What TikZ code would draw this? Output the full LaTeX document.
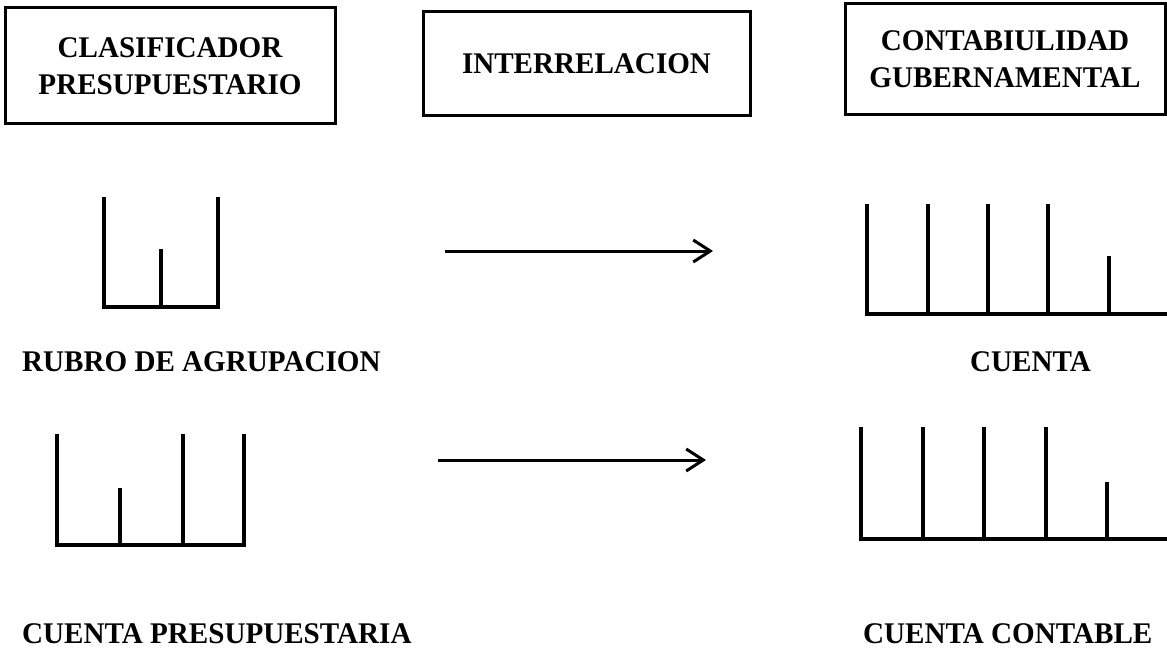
\documentclass[tikz,border=0pt]{standalone}
\usepackage{fontspec}
\setmainfont{Liberation Serif}[FakeStretch=0.97]
\usetikzlibrary{arrows.meta}
\begin{document}
\begin{tikzpicture}[x=1pt,y=-1pt,
  titlebox/.style={draw,line width=3pt,inner sep=0pt,align=center,font=\fontsize{30}{37}\selectfont\bfseries},
  lbl/.style={inner sep=0pt,anchor=base west,font=\fontsize{30}{37}\selectfont\bfseries},
  comb/.style={line width=3.5pt,line cap=butt},
  rel/.style={line width=3pt,-{Straight Barb[length=17pt,width=22pt,line width=3pt]}}]
\useasboundingbox (0,0) rectangle (1167,650);
% title boxes
\node[titlebox,minimum width=330pt,minimum height=116pt] (clas) at (170,66) {CLASIFICADOR\\PRESUPUESTARIO};
\node[titlebox,minimum width=327pt,minimum height=104pt] (inter) at (586.5,64) {INTERRELACION};
\node[titlebox,minimum width=320pt,minimum height=111pt] (cont) at (1005,59.5) {CONTABIULIDAD\\GUBERNAMENTAL};
% comb 1
\draw[comb] (104,197) -- (104,307) -- (218,307) -- (218,197);
\draw[comb] (161,249) -- (161,307);
% comb 2
\draw[comb] (867,204) -- (867,314) -- (1167,314);
\foreach \x in {928,988,1048} \draw[comb] (\x,204) -- (\x,314);
\draw[comb] (1109,256) -- (1109,314);
% comb 3
\draw[comb] (57,434) -- (57,545) -- (244,545) -- (244,434);
\draw[comb] (120,488) -- (120,545);
\draw[comb] (183,434) -- (183,545);
% comb 4
\draw[comb] (861,427) -- (861,539) -- (1167,539);
\foreach \x in {923,984,1046} \draw[comb] (\x,427) -- (\x,539);
\draw[comb] (1107,482) -- (1107,539);
% arrows
\coordinate (a1s) at (445,251);
\coordinate (a1e) at (713,251);
\coordinate (a2s) at (438,460);
\coordinate (a2e) at (706,460);
\draw[rel] (a1s) -- (a1e);
\draw[rel] (a2s) -- (a2e);
% labels
\node[lbl] (rubro) at (22,371) {RUBRO DE AGRUPACION};
\node[lbl] (cuenta) at (970,371) {CUENTA};
\node[lbl] (cpres) at (22,643) {CUENTA PRESUPUESTARIA};
\node[lbl] (ccont) at (863,643) {CUENTA CONTABLE};
\end{tikzpicture}
\end{document}
